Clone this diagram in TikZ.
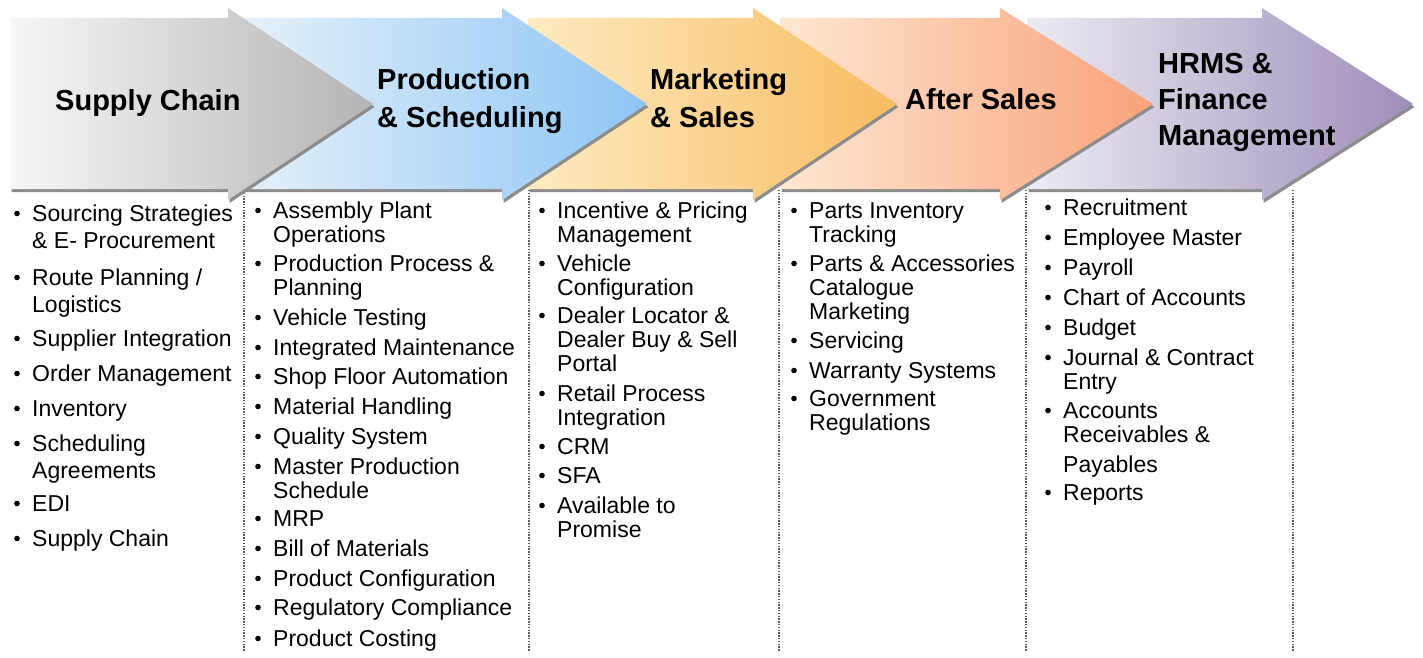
\documentclass[tikz,border=0pt]{standalone}
\usepackage{fontspec}
\setmainfont{Liberation Sans}

\definecolor{scL}{HTML}{F7F7F7}
\definecolor{scR}{HTML}{B4B4B4}
\definecolor{ppL}{HTML}{E8F2F9}
\definecolor{ppR}{HTML}{8EC5F4}
\definecolor{msL}{HTML}{FDEBC2}
\definecolor{msR}{HTML}{F8BC62}
\definecolor{asL}{HTML}{FDE8D2}
\definecolor{asR}{HTML}{F8A27B}
\definecolor{hrL}{HTML}{EDEBF2}
\definecolor{hrR}{HTML}{9E8EBA}

% stage arrow: body left, head start, tip, left colour, right colour
\newcommand{\stagearrow}[5]{%
  \fill[black!45, shift={(1.5,3)}] (#1,18) -- (#2,18) -- (#2,8) -- (#3,104) -- (#2,200) -- (#2,189) -- (#1,189) -- cycle;
  \shade[left color=#4, right color=#5] (#1,18) -- (#2,18) -- (#2,8) -- (#3,104) -- (#2,200) -- (#2,189) -- (#1,189) -- cycle;
}
% lines hung from the first baseline
\newcommand{\toplines}[1]{\begin{tabular}[t]{@{}l@{}}#1\end{tabular}}
% bullet entry: style, name, x, baseline, text
\newcommand{\listitem}[5][]{%
  \node[item,#1] (#2) at (#3,#4) {\toplines{#5}};
  \fill ([shift={(-15,-7.5)}]#2.base west) circle (2.8);
}

\begin{document}
\begin{tikzpicture}[x=1pt,y=-1pt,
    head/.style={anchor=base west, inner sep=0pt, font=\bfseries\fontsize{29}{38}\selectfont},
    item/.style={anchor=base west, inner sep=0pt, font=\fontsize{23}{24}\selectfont},
    wide/.style={font=\fontsize{23}{27}\selectfont},
    sep/.style={line width=1.3pt, black!65, dash pattern=on 1.4pt off 1.4pt}]
  \useasboundingbox[fill=white] (0,0) rectangle (1423,658);

  % dotted column separators
  \foreach \x in {244,529,779,1026,1293}
    \draw[sep] (\x,190) -- (\x,652);

  % arrows, right to left so each overlaps the next
  \stagearrow{1027}{1262}{1413}{hrL}{hrR}
  \stagearrow{780}{1000}{1153}{asL}{asR}
  \stagearrow{528}{753}{897}{msL}{msR}
  \stagearrow{228}{502}{647}{ppL}{ppR}
  \stagearrow{10}{228}{373}{scL}{scR}

  \node[head] (supply) at (55,111) {Supply Chain};
  \node[head] (prod) at (377,90) {\toplines{Production\\\& Scheduling}};
  \node[head] (mkt) at (650,90) {\toplines{Marketing\\\& Sales}};
  \node[head] (after) at (905,110) {After Sales};
  \node[head, font=\bfseries\fontsize{29}{36}\selectfont] (hrms) at (1158,74) {\toplines{HRMS \&\\Finance\\Management}};

  % supply chain
  \listitem[wide]{sc1}{32}{221}{Sourcing Strategies\\\& E- Procurement}
  \listitem[wide]{sc2}{32}{285}{Route Planning /\\Logistics}
  \listitem[wide]{sc3}{32}{346}{Supplier Integration}
  \listitem[wide]{sc4}{32}{381}{Order Management}
  \listitem[wide]{sc5}{32}{416}{Inventory}
  \listitem[wide]{sc6}{32}{451}{Scheduling\\Agreements}
  \listitem[wide]{sc7}{32}{511}{EDI}
  \listitem[wide]{sc8}{32}{546}{Supply Chain}

  % production
  \listitem{pp1}{273}{218}{Assembly Plant\\Operations}
  \listitem{pp2}{273}{271}{Production Process \&\\Planning}
  \listitem{pp3}{273}{325}{Vehicle Testing}
  \listitem{pp4}{273}{355}{Integrated Maintenance}
  \listitem{pp5}{273}{384}{Shop Floor Automation}
  \listitem{pp6}{273}{414}{Material Handling}
  \listitem{pp7}{273}{444}{Quality System}
  \listitem{pp8}{273}{474}{Master Production\\Schedule}
  \listitem{pp9}{273}{526}{MRP}
  \listitem{pp10}{273}{556}{Bill of Materials}
  \listitem{pp11}{273}{586}{Product Configuration}
  \listitem{pp12}{273}{615}{Regulatory Compliance}
  \listitem{pp13}{273}{646}{Product Costing}

  % marketing
  \listitem{ms1}{557}{218}{Incentive \& Pricing\\Management}
  \listitem{ms2}{557}{271}{Vehicle\\Configuration}
  \listitem{ms3}{557}{323}{Dealer Locator \&\\Dealer Buy \& Sell\\Portal}
  \listitem{ms4}{557}{401}{Retail Process\\Integration}
  \listitem{ms5}{557}{454}{CRM}
  \listitem{ms6}{557}{483}{SFA}
  \listitem{ms7}{557}{513}{Available to\\Promise}

  % after sales
  \listitem{as1}{809}{218}{Parts Inventory\\Tracking}
  \listitem{as2}{809}{271}{Parts \& Accessories\\Catalogue\\Marketing}
  \listitem{as3}{809}{348}{Servicing}
  \listitem{as4}{809}{378}{Warranty Systems}
  \listitem{as5}{809}{406}{Government\\Regulations}

  % hrms
  \listitem{hr1}{1063}{215}{Recruitment}
  \listitem{hr2}{1063}{245}{Employee Master}
  \listitem{hr3}{1063}{275}{Payroll}
  \listitem{hr4}{1063}{305}{Chart of Accounts}
  \listitem{hr5}{1063}{335}{Budget}
  \listitem{hr6}{1063}{365}{Journal \& Contract\\Entry}
  \listitem{hr7}{1063}{418}{Accounts\\Receivables \&\\[6pt]Payables}
  \listitem{hr8}{1063}{500}{Reports}
\end{tikzpicture}
\end{document}
